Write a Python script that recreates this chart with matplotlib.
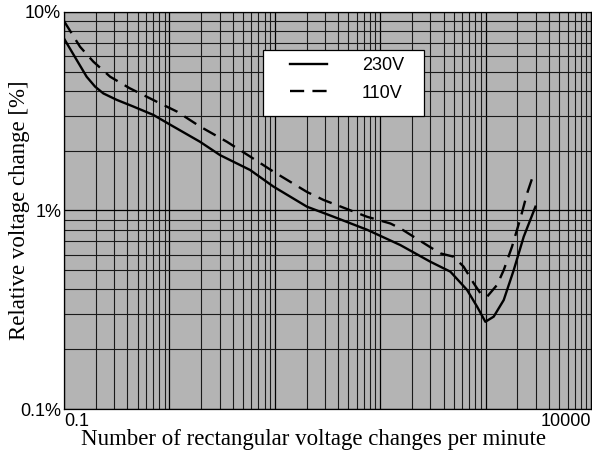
import numpy as np
import matplotlib
matplotlib.use("Agg")
import matplotlib.pyplot as plt
from matplotlib.ticker import LogLocator, FuncFormatter, NullFormatter
from matplotlib.patches import Rectangle

# Data (changes per minute, relative voltage change in %)
r_230 = [0.1, 0.132, 0.164, 0.197, 0.236, 0.316, 0.455, 0.705, 1.0, 1.95, 3.03,
         5.83, 9.7, 20.2, 36.1, 75, 155, 299, 463, 667, 830, 995, 1194, 1486,
         1849, 2300, 2971]
v_230 = [7.35, 5.73, 4.72, 4.21, 3.89, 3.61, 3.34, 3.03, 2.72, 2.22, 1.90,
         1.60, 1.32, 1.045, 0.93, 0.80, 0.67, 0.552, 0.492, 0.398, 0.328, 0.275,
         0.292, 0.354, 0.501, 0.738, 1.045]

r_110 = [0.1, 0.142, 0.19, 0.274, 0.42, 0.76, 1.18, 1.95, 3.51, 5.83, 9.7, 20.2,
         29, 75, 125, 155, 299, 372, 498, 619, 771, 893, 1033, 1286, 1486, 1782,
         2141, 2477, 2904]
v_110 = [9.0, 6.68, 5.62, 4.72, 4.13, 3.53, 3.15, 2.65, 2.22, 1.87, 1.57, 1.24,
         1.13, 0.93, 0.86, 0.813, 0.653, 0.608, 0.585, 0.521, 0.430, 0.383, 0.368,
         0.422, 0.501, 0.658, 0.914, 1.22, 1.57]

labels = ["230V", "110V"]
x_label = "Number of rectangular voltage changes per minute"
y_label = "Relative voltage change [%]"

fig = plt.figure(figsize=(5.92, 4.53), dpi=100)
ax = fig.add_axes([64/592, 44/453, 527/592, 397/453])
ax.set_facecolor("#b4b4b4")
ax.set_xscale("log")
ax.set_yscale("log")
ax.set_xlim(0.1, 10000)
ax.set_ylim(0.1, 10)

ax.xaxis.set_major_locator(LogLocator(base=10, numticks=20))
ax.xaxis.set_minor_locator(LogLocator(base=10, subs=np.arange(2, 10), numticks=20))
ax.yaxis.set_major_locator(LogLocator(base=10, numticks=20))
ax.yaxis.set_minor_locator(LogLocator(base=10, subs=np.arange(2, 10), numticks=20))

def xfmt(v, pos):
    if abs(v - 0.1) < 1e-9:
        return "0.1"
    if abs(v - 10000) < 1e-6:
        return "10000"
    return ""

def yfmt(v, pos):
    if abs(v - 10) < 1e-9:
        return "10%"
    if abs(v - 1) < 1e-9:
        return "1%"
    if abs(v - 0.1) < 1e-9:
        return "0.1%"
    return ""

ax.xaxis.set_major_formatter(FuncFormatter(xfmt))
ax.yaxis.set_major_formatter(FuncFormatter(yfmt))
ax.xaxis.set_minor_formatter(NullFormatter())
ax.yaxis.set_minor_formatter(NullFormatter())

ax.grid(True, which="major", color="black", linewidth=0.9)
ax.grid(True, which="minor", color="#1a1a1a", linewidth=0.8)
ax.set_axisbelow(True)
ax.tick_params(which="both", length=0)
ax.tick_params(axis="y", pad=2, labelsize=13)
ax.tick_params(axis="x", pad=3, labelsize=13)
for lab in ax.get_xticklabels() + ax.get_yticklabels():
    lab.set_fontfamily("Liberation Sans")

for s in ax.spines.values():
    s.set_color("black")
    s.set_linewidth(0.9)

l1, = ax.plot(r_230, v_230, color="black", linewidth=1.7, linestyle="-", label=labels[0])
l2, = ax.plot(r_110, v_110, color="black", linewidth=1.7, linestyle=(0, (6, 3.5)), label=labels[1])

# x tick label alignment
fig.canvas.draw()
for lab in ax.get_xticklabels():
    if lab.get_text() == "0.1":
        lab.set_horizontalalignment("left")
    elif lab.get_text() == "10000":
        lab.set_horizontalalignment("right")

ax.set_xlabel(x_label, fontsize=16.5, fontfamily="Liberation Serif")
ax.xaxis.set_label_coords(0.474, -0.078)
ax.xaxis.label.set_verticalalignment("center")
ax.set_ylabel(y_label, fontsize=16.5, fontfamily="Liberation Serif")
ax.yaxis.set_label_coords(-0.0835, 0.5)
ax.yaxis.label.set_verticalalignment("center")

# legend box
ax.add_patch(Rectangle((0.378, 0.738), 0.305, 0.166, transform=ax.transAxes,
                       facecolor="white", edgecolor="black", linewidth=0.9, zorder=5))
leg = ax.legend(handles=[l1, l2], loc="upper left", bbox_to_anchor=(0.429, 0.887),
                frameon=False, borderpad=0, borderaxespad=0, handlelength=2.05,
                handletextpad=1.94, labelspacing=0.6,
                prop={"family": "Liberation Sans", "size": 13})
leg.set_zorder(6)

fig.savefig("out.png", dpi=100)
